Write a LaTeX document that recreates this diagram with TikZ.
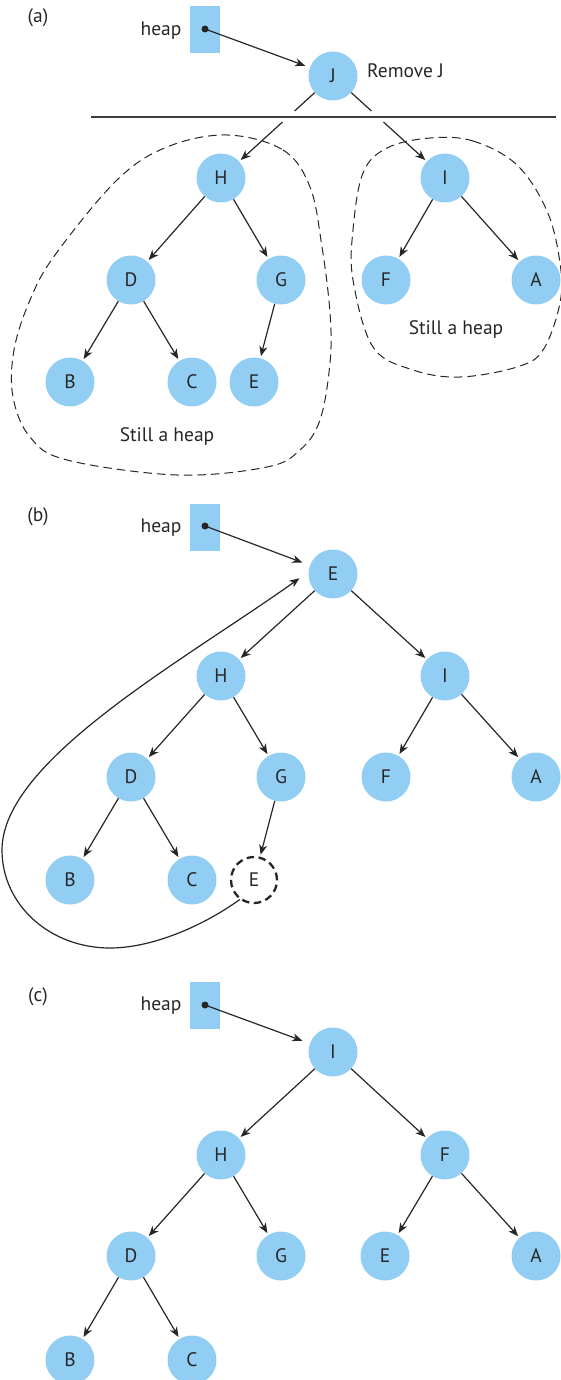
\documentclass[tikz,border=0pt]{standalone}
\usepackage{fontspec}
\setmainfont{PT Sans}
\usetikzlibrary{arrows.meta,calc}
\definecolor{nodeblue}{HTML}{92CEF3}
\definecolor{ink}{HTML}{262626}
\begin{document}
\begin{tikzpicture}[x=1pt,y=-1pt,
  font=\fontsize{19.5}{22}\selectfont,
  hn/.style={circle,fill=nodeblue,minimum size=49pt,inner sep=0pt,text=ink},
  dn/.style={circle,draw=ink,line width=2.3pt,dash pattern=on 7.5pt off 4.5pt,minimum size=46pt,inner sep=0pt,text=ink},
  plain/.style={draw=ink,line width=1.2pt},
  edge/.style={plain,-{Stealth[length=10pt,width=8pt,inset=3pt]},shorten >=2pt},
  hbox/.style={fill=nodeblue,minimum width=30pt,minimum height=47pt,inner sep=0pt},
  hdot/.style={circle,fill=ink,minimum size=7pt,inner sep=0pt},
  lbl/.style={text=ink,inner sep=0pt},
  blob/.style={draw=ink,line width=1pt,dash pattern=on 8.5pt off 5pt},
]
\useasboundingbox (0,0) rectangle (561,1380);

% ---------------- (a) ----------------
\node[lbl] (la) at (38,18) {(a)};
\node[lbl] (heapa) at (161,31) {heap};
\node[hbox] (ba) at (205,29.5) {};
\node[hdot] (da) at (205,29) {};
\node[hn] (aJ) at (333,76) {J};
\node[lbl,anchor=west] (rem) at (367,71) {Remove J};
\node[hn] (aH) at (221,178) {H};
\node[hn] (aI) at (445,178) {I};
\node[hn] (aD) at (131,280) {D};
\node[hn] (aG) at (281,280) {G};
\node[hn] (aF) at (386,280) {F};
\node[hn] (aA) at (536,280) {A};
\node[hn] (aB) at (70,382) {B};
\node[hn] (aC) at (192,382) {C};
\node[hn] (aE) at (254,382) {E};
\node[lbl] (sh1) at (167,437) {Still a heap};
\node[lbl] (sh2) at (456,330) {Still a heap};

\coordinate (hl1) at (91,117);
\coordinate (hl2) at (556,117);
\draw[draw=ink!90,line width=1.3pt] (hl1) -- (hl2);

\draw[edge,shorten >=5pt] (da.center) -- (aJ);
\draw[plain] (aJ) -- ($(aJ)!0.343!(aH)$);
\draw[edge] ($(aJ)!0.451!(aH)$) -- (aH);
\draw[plain] (aJ) -- ($(aJ)!0.343!(aI)$);
\draw[edge] ($(aJ)!0.451!(aI)$) -- (aI);
\draw[edge] (aH) -- (aD);
\draw[edge] (aH) -- (aG);
\draw[edge] (aD) -- (aB);
\draw[edge] (aD) -- (aC);
\draw[edge] (aG) -- (aE);
\draw[edge] (aI) -- (aF);
\draw[edge] (aI) -- (aA);

\draw[blob] plot[smooth cycle,tension=0.6] coordinates {
 (227,135) (283,150) (310,187) (322,247) (330,313) (330,363) (320,420)
 (300,450) (267,467) (177,475) (67,460) (30,437) (13,397) (14,350)
 (30,300) (55,255) (117,180) (167,147)};
\draw[blob] plot[smooth cycle,tension=0.6] coordinates {
 (430,138) (473,141) (517,165) (547,211) (560,263) (560,303) (543,350)
 (517,367) (460,377) (413,370) (373,347) (353,280) (353,230) (363,173)
 (387,148)};

% ---------------- (b) ----------------
\node[lbl] (lb) at (38,517) {(b)};
\node[lbl] (heapb) at (161,528) {heap};
\node[hbox] (bb) at (205,527) {};
\node[hdot] (db) at (205,526) {};
\node[hn] (bE) at (333,574) {E};
\node[hn] (bH) at (221,676) {H};
\node[hn] (bI) at (445,676) {I};
\node[hn] (bD) at (131,777) {D};
\node[hn] (bG) at (281,777) {G};
\node[hn] (bF) at (386,777) {F};
\node[hn] (bA) at (536,777) {A};
\node[hn] (bB) at (70,880) {B};
\node[hn] (bC) at (192,880) {C};
\node[dn] (bE2) at (254,880) {E};

\draw[edge,shorten >=8pt] (db.center) -- (bE);
\draw[edge] (bE) -- (bH);
\draw[edge] (bE) -- (bI);
\draw[edge] (bH) -- (bD);
\draw[edge] (bH) -- (bG);
\draw[edge] (bD) -- (bB);
\draw[edge] (bD) -- (bC);
\draw[edge] (bG) -- (bE2);
\draw[edge] (bI) -- (bF);
\draw[edge] (bI) -- (bA);
\coordinate (cb) at (110,948);
\coordinate (cl) at (2,850);
\draw[edge,shorten >=11pt] (bE2.234) .. controls (200,928) and (150,948) .. (cb)
  .. controls (50,948) and (2,905) .. (cl)
  .. controls (2,760) and (185,660) .. (bE.175);

% ---------------- (c) ----------------
\node[lbl] (lc) at (38,997) {(c)};
\node[lbl] (heapc) at (161,1006) {heap};
\node[hbox] (bc) at (205,1005.5) {};
\node[hdot] (dc) at (205,1005) {};
\node[hn] (cI) at (333,1052) {I};
\node[hn] (cH) at (221,1155) {H};
\node[hn] (cF) at (445,1155) {F};
\node[hn] (cD) at (131,1256) {D};
\node[hn] (cG) at (281,1256) {G};
\node[hn] (cE) at (385,1256) {E};
\node[hn] (cA) at (536,1256) {A};
\node[hn] (cB) at (70,1360) {B};
\node[hn] (cC) at (192,1360) {C};

\draw[edge,shorten >=8pt] (dc.center) -- (cI);
\draw[edge] (cI) -- (cH);
\draw[edge] (cI) -- (cF);
\draw[edge] (cH) -- (cD);
\draw[edge] (cH) -- (cG);
\draw[edge] (cD) -- (cB);
\draw[edge] (cD) -- (cC);
\draw[edge] (cF) -- (cE);
\draw[edge] (cF) -- (cA);
\end{tikzpicture}
\end{document}
